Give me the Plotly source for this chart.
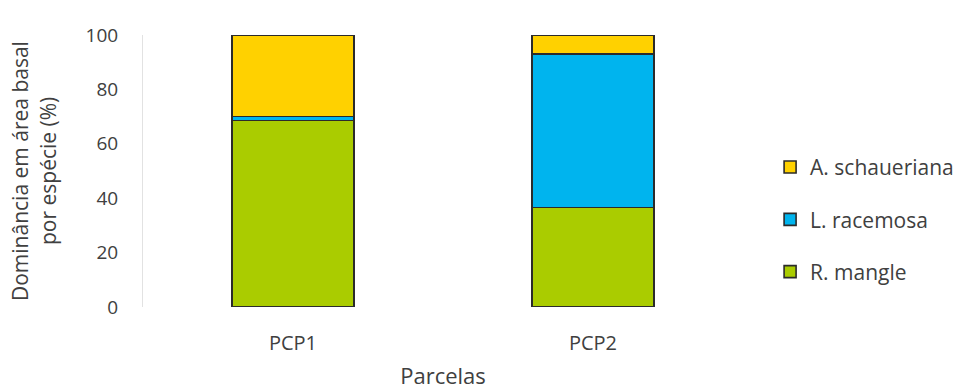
import plotly.graph_objects as go

# Basal-area dominance per species in each plot (%)
parcelas = ["PCP1", "PCP2"]
r_mangle = [68.6, 36.6]
l_racemosa = [1.5, 56.4]
a_schaueriana = [29.9, 7.0]

especies = ["R. mangle", "L. racemosa", "A. schaueriana"]
valores = [r_mangle, l_racemosa, a_schaueriana]
cores = ["#AACC00", "#00B4EE", "#FFD100"]
ordem_legenda = [3, 2, 1]

FONT = "Open Sans, DejaVu Sans, sans-serif"
TXT = "#404040"

fig = go.Figure()
for nome, vals, cor, rank in zip(especies, valores, cores, ordem_legenda):
    fig.add_trace(go.Bar(
        x=parcelas, y=vals, name=nome, legendgroup=nome, legendrank=rank,
        marker=dict(color=cor, line=dict(color="#2b2b2b", width=1.6)),
        width=0.405,
    ))

fig.update_layout(
    barmode="stack",
    width=961, height=390,
    margin=dict(l=143, r=218, t=35, b=83, autoexpand=False),
    paper_bgcolor="white", plot_bgcolor="white",
    font=dict(family=FONT, size=19, color=TXT),
    legend=dict(
        x=(768 - 143) / 598, y=0.322, xanchor="left", yanchor="middle",
        traceorder="grouped", tracegroupgap=22,
        font=dict(size=21, color=TXT),
        itemwidth=30,
    ),
    xaxis=dict(
        showline=False, showgrid=False, ticks="", automargin=False,
        ticklabelstandoff=22, tickfont=dict(size=20),
        title=dict(text="Parcelas", standoff=24, font=dict(size=22, color=TXT)),
    ),
    yaxis=dict(
        range=[0, 100], dtick=20, showgrid=False, automargin=False,
        showline=True, linecolor="#e2e2e2", linewidth=1,
        ticks="", ticklabelstandoff=20, tickfont=dict(size=19),
    ),
    bargap=0.595,
)

# Two-line y-axis title
fig.add_annotation(text="Dominância em área basal", xref="paper", yref="paper",
                   x=0, y=0.5, xanchor="center", yanchor="middle", xshift=-123,
                   textangle=-90, showarrow=False, font=dict(size=21, color=TXT))
fig.add_annotation(text="por espécie (%)", xref="paper", yref="paper",
                   x=0, y=0.5, xanchor="center", yanchor="middle", xshift=-95,
                   textangle=-90, showarrow=False, font=dict(size=21, color=TXT))

fig.write_html("out.html")
